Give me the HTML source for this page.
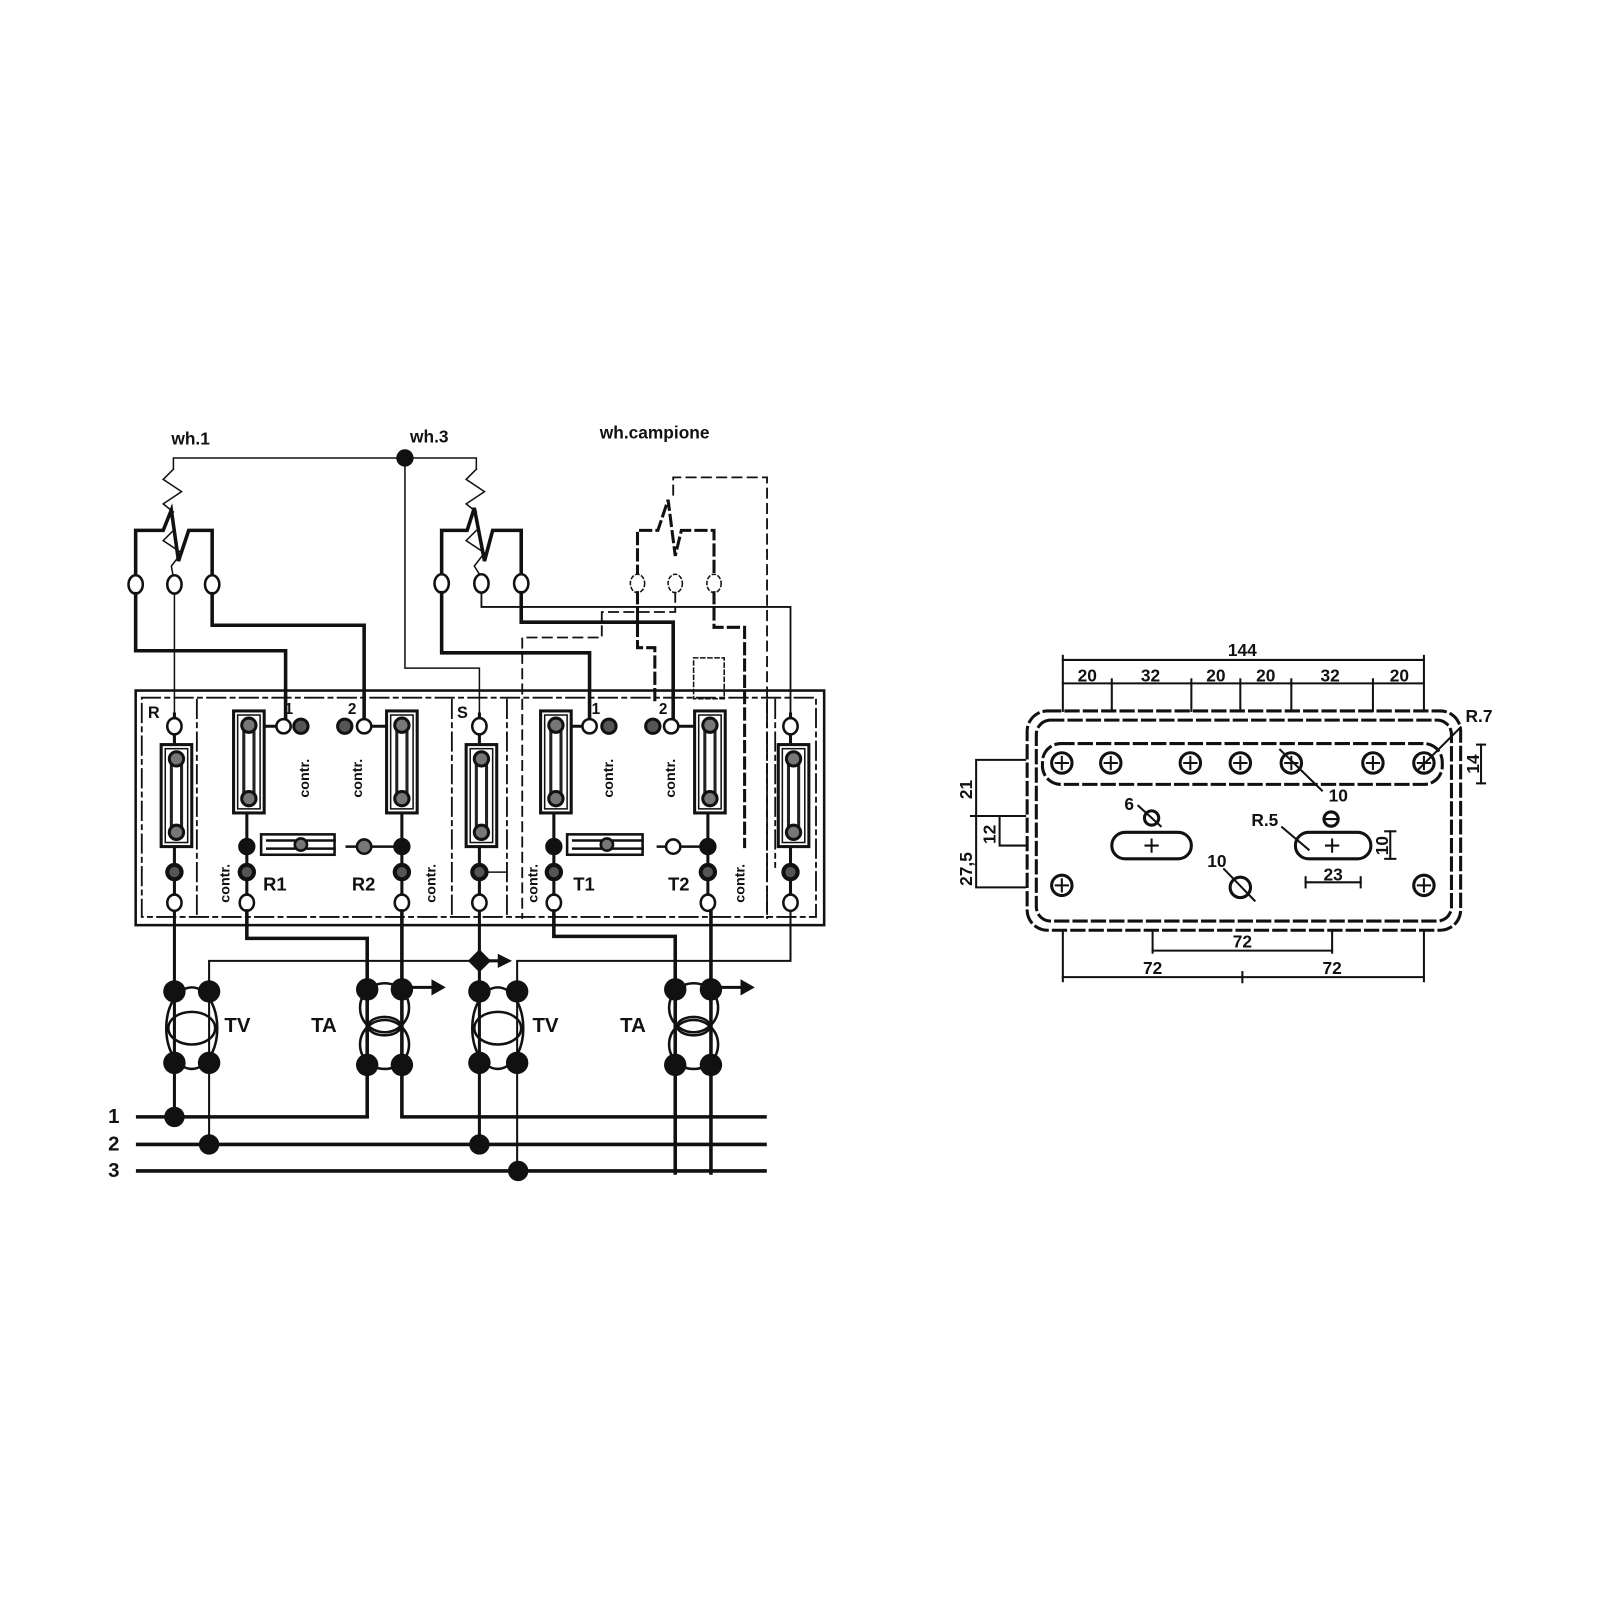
<!DOCTYPE html>
<html><head><meta charset="utf-8"><style>
html,body{margin:0;padding:0;background:#fff}
svg{display:block}
text{font-family:"Liberation Sans",sans-serif;font-weight:bold;fill:#111}
</style></head><body>
<svg width="1600" height="1600" viewBox="0 0 1600 1600" xmlns="http://www.w3.org/2000/svg">
<defs>
<g id="fuse">
 <rect x="-15" y="0" width="30" height="100" fill="#fff" stroke="#111" stroke-width="3"/>
 <rect x="-11" y="4" width="22" height="92" fill="none" stroke="#111" stroke-width="1.5"/>
 <rect x="-5" y="18" width="10" height="64" fill="#fff" stroke="#222" stroke-width="3"/>
 <circle cx="0" cy="14" r="7" fill="#777" stroke="#111" stroke-width="3"/>
 <circle cx="0" cy="86" r="7" fill="#777" stroke="#111" stroke-width="3"/>
</g>
<g id="tv">
 <ellipse cx="0" cy="0" rx="25" ry="40" fill="none" stroke="#111" stroke-width="2.5"/>
 <ellipse cx="0" cy="0" rx="23" ry="16" fill="none" stroke="#111" stroke-width="2.5"/>
</g>
<g id="ta">
 <circle cx="0" cy="-17" r="24" fill="none" stroke="#111" stroke-width="2.5"/>
 <circle cx="0" cy="19" r="24" fill="none" stroke="#111" stroke-width="2.5"/>
 <ellipse cx="0" cy="1" rx="16" ry="9" fill="none" stroke="#111" stroke-width="2.5"/>
</g>
</defs>
<g transform="scale(1.02)" stroke="#111" fill="none" stroke-linecap="square">
<!-- labels top -->
<text x="168" y="436" font-size="17" stroke="none">wh.1</text>
<text x="402" y="434" font-size="17" stroke="none">wh.3</text>
<text x="588" y="430" font-size="17" stroke="none">wh.campione</text>
<!-- thin common -->
<polyline points="170,460 170,449 467,449 467,460" stroke-width="1.5"/>
<circle cx="397" cy="449" r="8" fill="#111"/>
<polyline points="397,449 397,655 470,655 470,700" stroke-width="1.5"/>
<!-- wh1 coil -->
<polyline points="170,460 160,470 178,482 160,494 170,502" stroke-width="1.5"/>
<polyline points="170,520 160,530 178,542 168,555 170,566" stroke-width="1.5"/>
<polyline points="133,566 133,520 160,520 168,500 175,550 185,520 208,520 208,566" stroke-width="3.5"/>
<!-- wh3 coil -->
<polyline points="467,460 457,470 475,482 457,494 467,502" stroke-width="1.5"/>
<polyline points="467,520 457,530 475,542 465,555 472,566" stroke-width="1.5"/>
<polyline points="433,565 433,520 458,520 465,498 475,550 483,520 511,520 511,565" stroke-width="3.5"/>
<!-- campione -->
<polyline points="660,485 660,468 752,468 752,900" stroke-width="1.8" stroke-dasharray="9,6"/>
<polyline points="625,565 625,520 645,520 655,490 662,545 668,520 700,520 700,565" stroke-width="3" stroke-dasharray="10,6"/>
<!-- terminals row -->
<g fill="#fff" stroke-width="2.5">
<ellipse cx="133" cy="573" rx="7" ry="9"/><ellipse cx="171" cy="573" rx="7" ry="9"/><ellipse cx="208" cy="573" rx="7" ry="9"/>
<ellipse cx="433" cy="572" rx="7" ry="9"/><ellipse cx="472" cy="572" rx="7" ry="9"/><ellipse cx="511" cy="572" rx="7" ry="9"/>
</g>
<g fill="#fff" stroke-width="1.5" stroke-dasharray="3,3">
<ellipse cx="625" cy="572" rx="7" ry="9"/><ellipse cx="662" cy="572" rx="7" ry="9"/><ellipse cx="700" cy="572" rx="7" ry="9"/>
</g>
<!-- wiring from wh1 -->
<polyline points="133,582 133,638 280,638 280,705" stroke-width="3.5"/>
<polyline points="208,582 208,613 357,613 357,705" stroke-width="3.5"/>
<line x1="171" y1="582" x2="171" y2="700" stroke-width="1.5"/>
<!-- wh3 wiring -->
<polyline points="433,581 433,640 578,640 578,705" stroke-width="3.5"/>
<polyline points="511,581 511,610 660,610 660,705" stroke-width="3.5"/>
<polyline points="472,581 472,595 775,595 775,700" stroke-width="1.8"/>
<!-- campione dashed wiring -->
<polyline points="625,581 625,635 642,635 642,690" stroke-width="3" stroke-dasharray="10,6"/>
<polyline points="700,581 700,615 730,615 730,830" stroke-width="3" stroke-dasharray="10,6"/>
<polyline points="662,581 662,600 590,600 590,625 512,625 512,900" stroke-width="1.8" stroke-dasharray="9,6"/>
<rect x="680" y="645" width="30" height="40" stroke-width="1.5" stroke-dasharray="4,3"/>
<!-- box -->
<rect x="133" y="677" width="675" height="230" stroke-width="2.5"/>
<rect x="139" y="684" width="661" height="215" stroke-width="1.8" stroke-dasharray="18,5,4,5"/>
<g stroke-width="1.8" stroke-dasharray="18,5,4,5">
<line x1="193" y1="686" x2="193" y2="897"/>
<line x1="443" y1="686" x2="443" y2="897"/>
<line x1="497" y1="686" x2="497" y2="897"/>
<line x1="752" y1="686" x2="752" y2="897"/>
<line x1="760" y1="686" x2="760" y2="850"/>
</g>
<!-- columns vertical lines -->
<g stroke-width="3">
<line x1="171" y1="700" x2="171" y2="1100"/>
<line x1="242" y1="790" x2="242" y2="885"/>
<line x1="394" y1="790" x2="394" y2="885"/>
<line x1="470" y1="700" x2="470" y2="1120"/>
<line x1="543" y1="790" x2="543" y2="885"/>
<line x1="694" y1="790" x2="694" y2="885"/>
<line x1="775" y1="700" x2="775" y2="885"/>
<line x1="260" y1="712" x2="280" y2="712"/>
<line x1="357" y1="712" x2="380" y2="712"/>
<line x1="560" y1="712" x2="578" y2="712"/>
<line x1="660" y1="712" x2="680" y2="712"/>
</g>
<!-- fuses -->
<use href="#fuse" x="173" y="730"/>
<use href="#fuse" x="244" y="697"/>
<use href="#fuse" x="394" y="697"/>
<use href="#fuse" x="472" y="730"/>
<use href="#fuse" x="545" y="697"/>
<use href="#fuse" x="696" y="697"/>
<use href="#fuse" x="778" y="730"/>
<!-- top terminal circles -->
<g fill="#fff" stroke-width="2.5">
<ellipse cx="171" cy="712" rx="7" ry="8"/><ellipse cx="470" cy="712" rx="7" ry="8"/><ellipse cx="775" cy="712" rx="7" ry="8"/>
<circle cx="278" cy="712" r="7"/><circle cx="357" cy="712" r="7"/>
<circle cx="578" cy="712" r="7"/><circle cx="658" cy="712" r="7"/>
</g>
<g fill="#555" stroke-width="3">
<circle cx="295" cy="712" r="7"/><circle cx="338" cy="712" r="7"/>
<circle cx="597" cy="712" r="7"/><circle cx="640" cy="712" r="7"/>
</g>
<text x="145" y="704" font-size="16" stroke="none">R</text>
<text x="448" y="704" font-size="16" stroke="none">S</text>
<text x="279" y="700" font-size="15" stroke="none">1</text>
<text x="341" y="700" font-size="15" stroke="none">2</text>
<text x="580" y="700" font-size="15" stroke="none">1</text>
<text x="646" y="700" font-size="15" stroke="none">2</text>
<!-- contr labels -->
<g font-size="14" stroke="none">
<text transform="translate(303,782) rotate(-90)">contr.</text>
<text transform="translate(355,782) rotate(-90)">contr.</text>
<text transform="translate(601,782) rotate(-90)">contr.</text>
<text transform="translate(662,782) rotate(-90)">contr.</text>
<text transform="translate(225,885) rotate(-90)">contr.</text>
<text transform="translate(427,885) rotate(-90)">contr.</text>
<text transform="translate(527,885) rotate(-90)">contr.</text>
<text transform="translate(730,885) rotate(-90)">contr.</text>
</g>
<!-- resistors -->
<g stroke-width="2.5" fill="#fff">
<rect x="256" y="818" width="72" height="20"/><line x1="262" y1="824" x2="328" y2="824"/><line x1="262" y1="832" x2="328" y2="832"/>
<rect x="556" y="818" width="74" height="20"/><line x1="562" y1="824" x2="630" y2="824"/><line x1="562" y1="832" x2="630" y2="832"/>
</g>
<circle cx="295" cy="828" r="6" fill="#777" stroke-width="2.5"/>
<circle cx="595" cy="828" r="6" fill="#777" stroke-width="2.5"/>
<line x1="340" y1="830" x2="394" y2="830" stroke-width="2.5"/>
<line x1="645" y1="830" x2="694" y2="830" stroke-width="2.5"/>
<circle cx="357" cy="830" r="7" fill="#777" stroke-width="2.5"/>
<circle cx="660" cy="830" r="7" fill="#fff" stroke-width="2.5"/>
<!-- lower dots -->
<g fill="#111">
<circle cx="242" cy="830" r="8"/><circle cx="394" cy="830" r="8"/>
<circle cx="543" cy="830" r="8"/><circle cx="694" cy="830" r="8"/>
</g>
<g fill="#555" stroke-width="4">
<circle cx="171" cy="855" r="7"/><circle cx="242" cy="855" r="7"/><circle cx="394" cy="855" r="7"/>
<circle cx="470" cy="855" r="7"/><circle cx="543" cy="855" r="7"/><circle cx="694" cy="855" r="7"/><circle cx="775" cy="855" r="7"/>
</g>
<line x1="478" y1="855" x2="497" y2="855" stroke-width="1.5"/>
<g fill="#fff" stroke-width="2.5">
<ellipse cx="171" cy="885" rx="7" ry="8"/><ellipse cx="242" cy="885" rx="7" ry="8"/><ellipse cx="394" cy="885" rx="7" ry="8"/>
<ellipse cx="470" cy="885" rx="7" ry="8"/><ellipse cx="543" cy="885" rx="7" ry="8"/><ellipse cx="694" cy="885" rx="7" ry="8"/><ellipse cx="775" cy="885" rx="7" ry="8"/>
</g>
<g font-size="18" stroke="none">
<text x="258" y="873">R1</text><text x="345" y="873">R2</text>
<text x="562" y="873">T1</text><text x="655" y="873">T2</text>
</g>
<!-- lower wiring -->
<polyline points="242,893 242,920 360,920 360,1095 135,1095" stroke-width="3.5"/>
<line x1="394" y1="893" x2="394" y2="1050" stroke-width="3.5"/>
<polyline points="394,1050 394,1095 750,1095" stroke-width="3.5"/>
<polyline points="543,893 543,918 662,918 662,1150" stroke-width="3.5"/>
<line x1="697" y1="893" x2="697" y2="1150" stroke-width="3.5"/>
<polyline points="205,1122 205,942 470,942" stroke-width="2"/>
<polyline points="775,893 775,942 507,942 507,1148" stroke-width="2"/>
<line x1="171" y1="893" x2="171" y2="1095" stroke-width="2"/>
<line x1="135" y1="1122" x2="750" y2="1122" stroke-width="3.5"/>
<line x1="135" y1="1148" x2="750" y2="1148" stroke-width="3.5"/>
<rect x="462" y="934" width="16" height="16" transform="rotate(45 470 942)" fill="#111" stroke="none"/>
<!-- arrows -->
<g stroke-width="3">
<line x1="470" y1="942" x2="490" y2="942"/>
<line x1="394" y1="968" x2="425" y2="968"/>
<line x1="697" y1="968" x2="728" y2="968"/>
</g>
<g fill="#111" stroke="none">
<polygon points="488,935 502,942 488,949"/>
<polygon points="423,960 437,968 423,976"/>
<polygon points="726,960 740,968 726,976"/>
</g>
<!-- transformers -->
<use href="#tv" x="188" y="1008"/>
<use href="#tv" x="488" y="1008"/>
<use href="#ta" x="377" y="1005"/>
<use href="#ta" x="680" y="1005"/>
<g fill="#111" stroke="none">
<circle cx="171" cy="972" r="11"/><circle cx="205" cy="972" r="11"/><circle cx="171" cy="1042" r="11"/><circle cx="205" cy="1042" r="11"/>
<circle cx="470" cy="972" r="11"/><circle cx="507" cy="972" r="11"/><circle cx="470" cy="1042" r="11"/><circle cx="507" cy="1042" r="11"/>
<circle cx="360" cy="970" r="11"/><circle cx="394" cy="970" r="11"/><circle cx="360" cy="1044" r="11"/><circle cx="394" cy="1044" r="11"/>
<circle cx="662" cy="970" r="11"/><circle cx="697" cy="970" r="11"/><circle cx="662" cy="1044" r="11"/><circle cx="697" cy="1044" r="11"/>
<circle cx="171" cy="1095" r="10"/><circle cx="205" cy="1122" r="10"/><circle cx="470" cy="1122" r="10"/><circle cx="508" cy="1148" r="10"/>
</g>
<g font-size="20" stroke="none">
<text x="220" y="1012">TV</text><text x="305" y="1012">TA</text>
<text x="522" y="1012">TV</text><text x="608" y="1012">TA</text>
<text x="106" y="1101">1</text><text x="106" y="1128">2</text><text x="106" y="1154">3</text>
</g>

<!-- RIGHT DRAWING -->
<rect x="1007" y="697" width="425" height="215" rx="20" stroke-width="3" stroke-dasharray="12,6"/>
<rect x="1016" y="706" width="407" height="197" rx="14" stroke-width="3" stroke-dasharray="12,6"/>
<rect x="1022" y="729" width="392" height="40" rx="18" stroke-width="3" stroke-dasharray="12,6"/>
<g stroke-width="3">
<circle cx="1041" cy="748" r="10"/><circle cx="1089" cy="748" r="10"/><circle cx="1167" cy="748" r="10"/><circle cx="1216" cy="748" r="10"/>
<circle cx="1266" cy="748" r="10"/><circle cx="1346" cy="748" r="10"/><circle cx="1396" cy="748" r="10"/>
<circle cx="1041" cy="868" r="10"/><circle cx="1396" cy="868" r="10"/><circle cx="1216" cy="870" r="10"/>
<circle cx="1129" cy="802" r="7"/><circle cx="1305" cy="803" r="7"/>
</g>
<g stroke-width="2">
<path d="M1035 748h12M1041 742v12M1083 748h12M1089 742v12M1161 748h12M1167 742v12M1210 748h12M1216 742v12M1260 748h12M1266 742v12M1340 748h12M1346 742v12M1390 748h12M1396 742v12M1035 868h12M1041 862v12M1390 868h12M1396 862v12M1300 803h10M1123 829h12M1129 823v12M1300 829h12M1306 823v12"/>
</g>
<rect x="1090" y="816" width="78" height="26" rx="13" stroke-width="3"/>
<rect x="1270" y="816" width="74" height="26" rx="13" stroke-width="3"/>
<g stroke-width="2">
<line x1="1255" y1="735" x2="1296" y2="775"/>
<line x1="1116" y1="790" x2="1138" y2="810"/>
<line x1="1200" y1="852" x2="1230" y2="883"/>
<line x1="1257" y1="811" x2="1283" y2="833"/>
<line x1="1390" y1="755" x2="1432" y2="713"/>
<!-- top dims -->
<line x1="1042" y1="647" x2="1396" y2="647"/>
<line x1="1042" y1="670" x2="1396" y2="670"/>
<line x1="1042" y1="643" x2="1042" y2="697"/>
<line x1="1396" y1="643" x2="1396" y2="697"/>
<line x1="1090" y1="666" x2="1090" y2="697"/>
<line x1="1168" y1="666" x2="1168" y2="697"/>
<line x1="1216" y1="666" x2="1216" y2="697"/>
<line x1="1266" y1="666" x2="1266" y2="697"/>
<line x1="1346" y1="666" x2="1346" y2="697"/>
<!-- bottom dims -->
<line x1="1042" y1="912" x2="1042" y2="962"/>
<line x1="1396" y1="912" x2="1396" y2="962"/>
<line x1="1042" y1="958" x2="1396" y2="958"/>
<line x1="1218" y1="953" x2="1218" y2="963"/>
<line x1="1130" y1="912" x2="1130" y2="934"/>
<line x1="1306" y1="912" x2="1306" y2="934"/>
<line x1="1130" y1="932" x2="1306" y2="932"/>
<!-- left dims -->
<polyline points="1005,745 957,745 957,870 1005,870"/>
<line x1="952" y1="800" x2="1005" y2="800"/>
<polyline points="980,800 980,829 1005,829"/>
<!-- right dims -->
<line x1="1452" y1="730" x2="1452" y2="768"/>
<line x1="1448" y1="730" x2="1456" y2="730"/>
<line x1="1448" y1="768" x2="1456" y2="768"/>
<line x1="1363" y1="815" x2="1363" y2="842"/>
<line x1="1358" y1="815" x2="1368" y2="815"/>
<line x1="1358" y1="842" x2="1368" y2="842"/>
<line x1="1280" y1="865" x2="1334" y2="865"/>
<line x1="1280" y1="860" x2="1280" y2="870"/>
<line x1="1334" y1="860" x2="1334" y2="870"/>
</g>
<g font-size="17" stroke="none" text-anchor="middle">
<text x="1218" y="643">144</text>
<text x="1066" y="668">20</text><text x="1128" y="668">32</text><text x="1192" y="668">20</text>
<text x="1241" y="668">20</text><text x="1304" y="668">32</text><text x="1372" y="668">20</text>
<text x="1130" y="955">72</text><text x="1306" y="955">72</text><text x="1218" y="929">72</text>
<text x="1307" y="863">23</text>
<text x="1107" y="794">6</text>
<text x="1312" y="786">10</text>
<text x="1193" y="850">10</text>
<text x="1240" y="810">R.5</text>
<text x="1450" y="708">R.7</text>
<text transform="translate(953,774) rotate(-90)">21</text>
<text transform="translate(953,852) rotate(-90)">27,5</text>
<text transform="translate(976,818) rotate(-90)">12</text>
<text transform="translate(1361,829) rotate(-90)">10</text>
<text transform="translate(1450,749) rotate(-90)">14</text>
</g>
</g>
</svg>
</body></html>
